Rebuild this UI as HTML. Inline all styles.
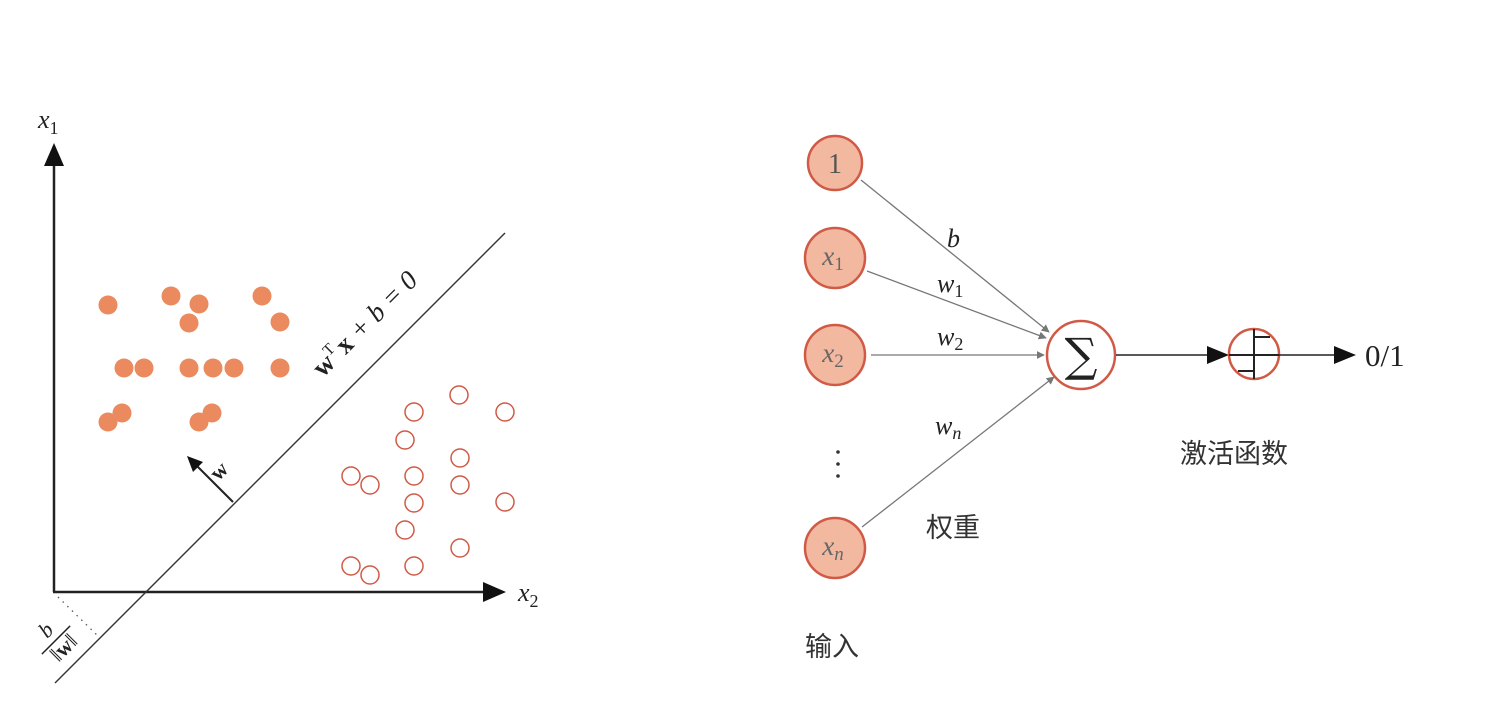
<!DOCTYPE html>
<html><head><meta charset="utf-8"><style>
html,body{margin:0;padding:0;background:#fff;}
svg{display:block;}
.m{font-family:"Liberation Serif","Noto Serif CJK SC",serif;font-style:italic;}
.c{font-family:"Liberation Sans","Noto Sans CJK SC",sans-serif;}
</style></head><body>
<svg id="fig" width="1486" height="716" viewBox="0 0 1486 716" xmlns="http://www.w3.org/2000/svg">
<defs>
<marker id="ah" viewBox="0 0 10 10" refX="9" refY="5" markerWidth="8" markerHeight="8" orient="auto" markerUnits="userSpaceOnUse"><path d="M0,0 L10,5 L0,10 z" fill="#777"/></marker>
</defs>
<g id="left">
  <line x1="54" y1="592" x2="54" y2="165" stroke="#222" stroke-width="2.5"/>
  <polygon points="44,166 64,166 54,143" fill="#111"/>
  <line x1="53" y1="592" x2="484" y2="592" stroke="#222" stroke-width="2.5"/>
  <polygon points="483,582 483,602 506,592" fill="#111"/>
  <text x="38" y="128" class="m" font-size="26" fill="#222">x<tspan font-style="normal" font-size="18" dy="6">1</tspan></text>
  <text x="518" y="601" class="m" font-size="26" fill="#222">x<tspan font-style="normal" font-size="18" dy="6">2</tspan></text>
  <line x1="55" y1="683" x2="505" y2="233" stroke="#333" stroke-width="1.4"/>
  <text transform="translate(371,330) rotate(-45)" text-anchor="middle" class="m" font-size="27" fill="#222"><tspan font-weight="bold" font-style="normal">w</tspan><tspan font-size="16" font-style="normal" dy="-11">T</tspan><tspan dy="11" dx="3" font-weight="bold" font-style="normal">x</tspan><tspan> + b = 0</tspan></text>
  <line x1="233" y1="502" x2="196" y2="465" stroke="#222" stroke-width="2"/>
  <polygon points="187,456 203,462 193,472" fill="#111"/>
  <text transform="translate(224,476) rotate(-45)" text-anchor="middle" font-family="Liberation Serif,serif" font-weight="bold" font-size="22" fill="#222">w</text>
  <line x1="58" y1="597" x2="100" y2="638" stroke="#555" stroke-width="1.3" stroke-dasharray="1.5,5"/>
  <g transform="translate(56,640) rotate(-45)">
    <text x="0" y="-7" text-anchor="middle" class="m" font-size="22" fill="#222">b</text>
    <line x1="-20" y1="0" x2="20" y2="0" stroke="#222" stroke-width="1.5"/>
    <text x="0" y="18" text-anchor="middle" font-family="Liberation Serif,serif" font-size="22" fill="#222"><tspan>‖</tspan><tspan font-weight="bold">w</tspan><tspan>‖</tspan></text>
  </g>
  <g id="pts"></g>
</g>
<g id="right">
  <line x1="861" y1="180" x2="1049" y2="332" stroke="#777" stroke-width="1.3" marker-end="url(#ah)"/>
  <line x1="867" y1="271" x2="1046" y2="338" stroke="#777" stroke-width="1.3" marker-end="url(#ah)"/>
  <line x1="871" y1="355" x2="1044" y2="355" stroke="#777" stroke-width="1.3" marker-end="url(#ah)"/>
  <line x1="862" y1="527" x2="1054" y2="377" stroke="#777" stroke-width="1.3" marker-end="url(#ah)"/>
  <text x="947" y="247" class="m" font-size="26" fill="#222">b</text>
  <text x="937" y="292" class="m" font-size="26" fill="#222">w<tspan font-style="normal" font-size="18" dy="5">1</tspan></text>
  <text x="937" y="345" class="m" font-size="26" fill="#222">w<tspan font-style="normal" font-size="18" dy="5">2</tspan></text>
  <text x="935" y="434" class="m" font-size="26" fill="#222">w<tspan font-size="18" dy="5">n</tspan></text>
  <g><circle cx="835" cy="163" r="27" fill="#f2b9a0" stroke="#d05a46" stroke-width="2.5"/><text x="835" y="173" text-anchor="middle" font-family="Liberation Serif,serif" font-size="28" fill="#555">1</text></g>
  <g><circle cx="835" cy="258" r="30" fill="#f2b9a0" stroke="#d05a46" stroke-width="2.5"/><text x="833" y="265" text-anchor="middle" class="m" font-size="27" fill="#666">x<tspan font-style="normal" font-size="19" dy="5">1</tspan></text></g>
  <g><circle cx="835" cy="355" r="30" fill="#f2b9a0" stroke="#d05a46" stroke-width="2.5"/><text x="833" y="362" text-anchor="middle" class="m" font-size="27" fill="#666">x<tspan font-style="normal" font-size="19" dy="5">2</tspan></text></g>
  <g><circle cx="835" cy="548" r="30" fill="#f2b9a0" stroke="#d05a46" stroke-width="2.5"/><text x="833" y="555" text-anchor="middle" class="m" font-size="27" fill="#666">x<tspan font-size="19" dy="5">n</tspan></text></g>
  <g fill="#333"><circle cx="838" cy="452" r="1.8"/><circle cx="838" cy="464" r="1.8"/><circle cx="838" cy="476" r="1.8"/></g>
  <g><circle cx="1081" cy="355" r="34" fill="#fff" stroke="#d05a46" stroke-width="2.5"/><text x="1081" y="371" text-anchor="middle" font-family="DejaVu Serif,serif" font-size="46" fill="#222">∑</text></g>
  <line x1="1116" y1="355" x2="1210" y2="355" stroke="#222" stroke-width="1.5"/>
  <polygon points="1207,346 1207,364 1229,355" fill="#111"/>
  <g><circle cx="1254" cy="354" r="25" fill="#fff" stroke="#d05a46" stroke-width="2.5"/><path d="M1229,355 H1279 M1254,329 V379 M1254,337 H1270 M1254,371 H1238" stroke="#222" stroke-width="2" fill="none"/></g>
  <line x1="1279" y1="355" x2="1337" y2="355" stroke="#222" stroke-width="1.5"/>
  <polygon points="1334,346 1334,364 1356,355" fill="#111"/>
  <text x="1365" y="366" font-family="Liberation Serif,serif" font-size="31" fill="#222">0/1</text>
  <text x="1180" y="463" class="c" font-size="27" fill="#333">激活函数</text>
  <text x="926" y="537" class="c" font-size="27" fill="#333">权重</text>
  <text x="805" y="656" class="c" font-size="27" fill="#333">输入</text>
</g>
</svg>
<script>
// data coordinates: x2 (horizontal), x1 (vertical), origin at axes corner
const filledX = [5.3, 11.6, 14.4, 13.4, 20.7, 22.5, 6.9, 8.9, 13.4, 15.8, 17.9, 22.5, 5.3, 6.7, 14.4, 15.7];
const filledY = [28.7, 29.6, 28.8, 26.9, 29.6, 27.0, 22.4, 22.4, 22.4, 22.4, 22.4, 22.4, 17.0, 17.9, 17.0, 17.9];
const openX = [40.4, 35.9, 45.0, 35.0, 40.5, 29.6, 31.5, 35.9, 40.5, 35.9, 45.0, 35.0, 40.5, 29.6, 31.5, 35.9];
const openY = [19.7, 18.0, 18.0, 15.2, 13.4, 11.6, 10.7, 11.6, 10.7, 8.9, 9.0, 6.2, 4.4, 2.6, 1.7, 2.6];
const X0 = 55, Y0 = 592, K = 10;
function sx(v){ return X0 + v*K; }
function sy(v){ return Y0 - v*K; }
const NS = "http://www.w3.org/2000/svg";
const g = document.getElementById('pts');
filledX.forEach((v,i)=>{
  const c = document.createElementNS(NS,'circle');
  c.setAttribute('cx', sx(v)); c.setAttribute('cy', sy(filledY[i])); c.setAttribute('r', 9.5);
  c.setAttribute('fill', '#ea8a5e');
  
  
  g.appendChild(c);
});
openX.forEach((v,i)=>{
  const c = document.createElementNS(NS,'circle');
  c.setAttribute('cx', sx(v)); c.setAttribute('cy', sy(openY[i])); c.setAttribute('r', 9);
  c.setAttribute('fill', 'none'); c.setAttribute('stroke', '#d05a46'); c.setAttribute('stroke-width', 1.5);
  
  
  g.appendChild(c);
});
</script>
</body></html>
